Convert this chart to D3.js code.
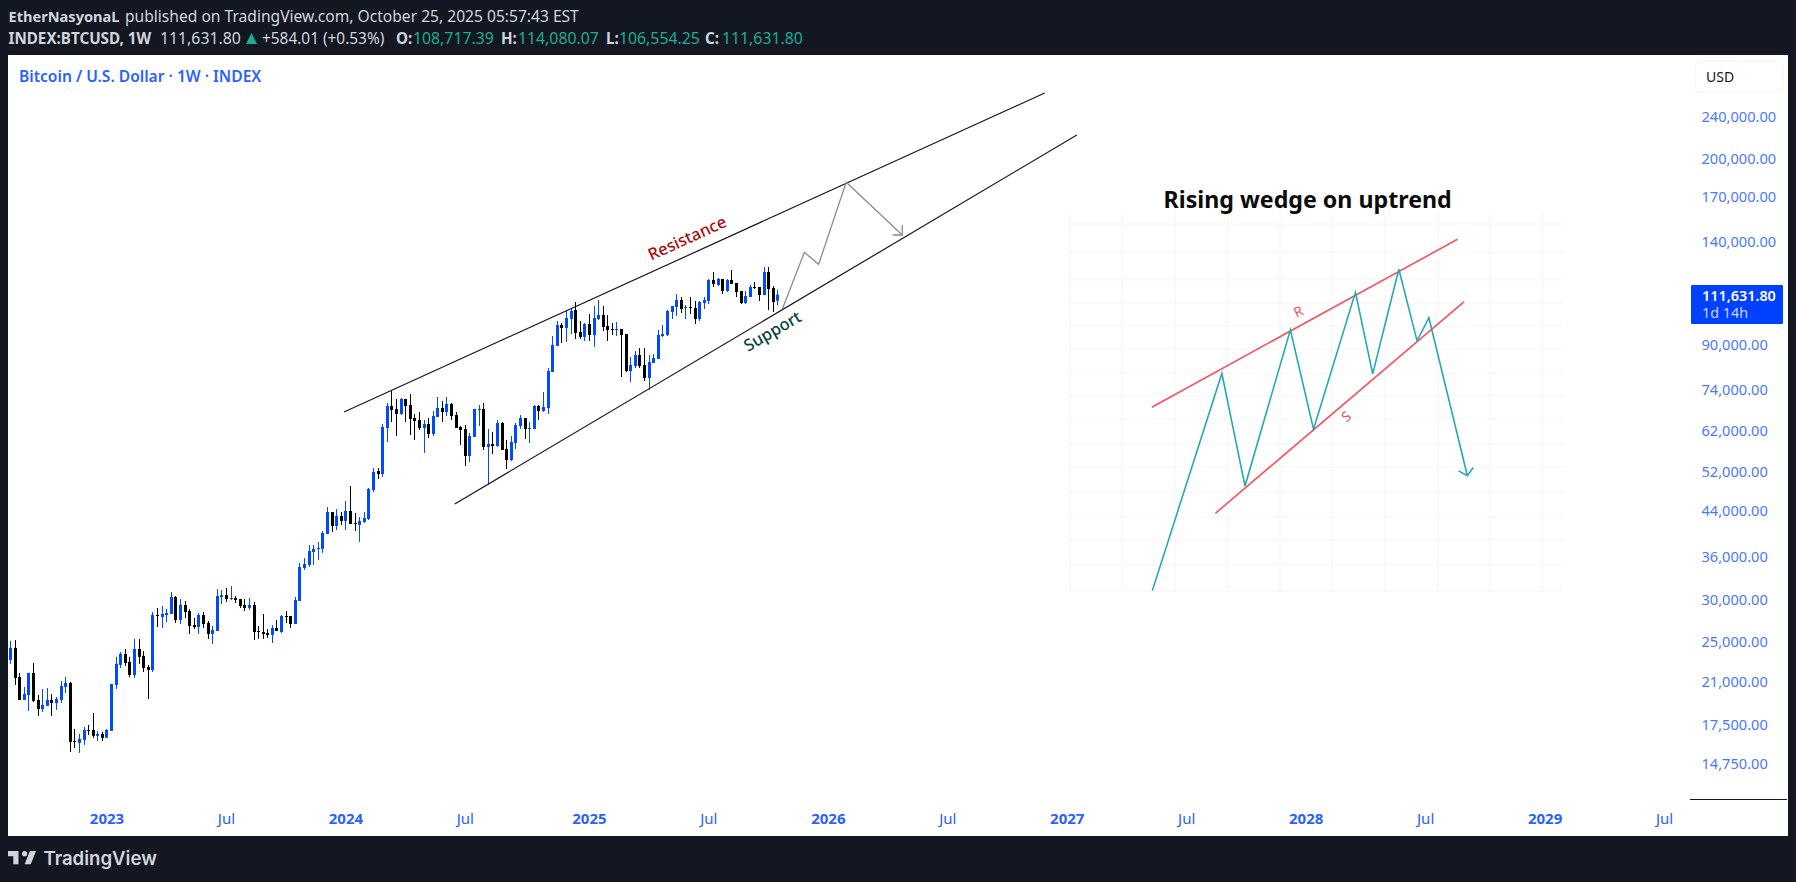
<!DOCTYPE html>
<html>
<head>
<meta charset="utf-8">
<script src="https://d3js.org/d3.v7.min.js"></script>
<style>
  body { margin: 0; background: #131722; }
  text { font-family: "Noto Sans", sans-serif; }
</style>
</head>
<body>
<div id="chart"></div>
<script>
// weekly candles, one entry per week, last one is the week of 2025-10-20
const opens = [23110,24340,21480,19450,19870,21850,19450,18710,18960,19450,
  19200,19450,20570,20930,16300,16160,16370,17090,17090,16660,
  16800,16520,17020,20750,22620,23720,22910,21660,24230,23520,
  22420,22130,28050,27810,28050,28170,30310,27450,29290,28540,
  26860,26630,28050,27100,25850,26180,30310,30570,30050,30180,
  30050,29290,28920,29290,26180,26070,25960,25740,26520,26070,
  27930,27930,26980,29800,34350,34800,36800,37300,37300,39770,
  43730,41170,42990,42070,43920,41710,41350,41890,42440,48080,
  52190,51510,62810,69060,68180,66720,71180,69360,65580,65010,
  62810,63900,61210,65860,68470,67300,69660,66430,63080,62540,
  55670,60420,67880,68180,57870,58620,58120,64180,57370,54720,
  58880,63350,65580,62540,62540,69060,67590,68470,79960,89450,
  97920,96660,100490,104460,95010,92990,98340,93790,100490,102230,
  97500,96250,95830,96250,94190,80300,82050,86040,82410,77920,
  83120,84570,93390,93790,103560,105820,109060,105360,105820,105360,
  100490,107660,108590,118880,116350,119390,113370,118880,117360,113370,
  107660,110480,115350,115350,111430,123040,114850,108717];
const highs = [25080,25190,21850,20570,21850,22810,19870,20390,20480,19960,
  19700,21110,21480,21020,17160,16800,17310,17460,18390,17020,
  16950,17160,20840,23420,23920,24230,23420,25300,25300,24020,
  22620,28420,28920,29170,28790,30970,30440,30050,29800,28790,
  27690,28290,28420,27330,26750,31380,31240,31510,31780,30440,
  30050,30050,30180,29670,26750,28170,26410,26860,27450,28050,
  28540,27930,30310,35100,35860,37940,37940,38430,40290,44680,
  43730,44300,43730,45850,48910,43550,42800,43730,48490,52870,
  52870,63900,69960,73670,71180,71480,71180,72720,66720,67300,
  65010,65580,67590,71790,70570,71790,69960,67300,63350,63620,
  61470,68180,69360,69960,62540,61730,65010,64450,59640,60680,
  64180,66430,65580,64450,69360,69360,73350,81350,93390,99620,
  98770,104010,104910,108120,99620,98770,102670,106280,109060,106280,
  102230,98770,99190,96250,94190,85300,87530,88680,88680,86040,
  86410,95830,97920,104460,106280,111910,110480,106740,110480,108590,
  108590,110480,119390,123040,119900,119390,119390,124110,117360,113370,
  113370,116350,117860,115350,125730,125730,115850,114080];
const lows = [22720,20750,19450,19450,18550,19280,18160,18470,18960,18160,
  18630,19200,20040,15550,15820,15480,16020,16730,16520,16300,
  16300,16520,17020,20390,22330,22520,21480,21380,22720,21940,
  19530,21940,26630,26520,27210,28170,27100,26980,27690,25850,
  26410,25850,26520,25300,24760,26180,29420,29670,29930,29540,
  28920,28540,28660,25190,25300,25300,25410,24870,26180,25960,
  27100,26520,26980,29800,34060,34500,34800,35560,36640,39770,
  40110,40460,41350,40460,41530,40290,38430,41710,42250,47670,
  50420,50850,59130,64450,60680,66430,64450,60940,59640,62270,
  56400,60160,60680,65860,64450,66150,65010,62810,58370,53330,
  54250,60420,63350,57130,49140,56150,57870,57130,52640,54480,
  57370,62540,59900,58880,62540,65010,67300,66720,79960,89450,
  90610,91000,94190,92190,92190,91400,91400,89070,100050,95420,
  91400,93790,93390,78260,79960,76590,81350,81350,76920,73990,
  83120,84570,92990,93390,100490,101800,103120,100490,102670,98340,
  99620,104910,107190,115350,115850,111910,112880,116850,110480,107190,
  107190,110480,114360,108590,111430,104460,103560,106554];
const closes = [24340,21380,19450,19960,21850,19370,18710,19040,19450,19200,
  19530,20660,20930,16230,16230,16450,17090,17020,16660,16800,
  16520,17090,20840,22720,23720,22810,21660,24230,23420,22330,
  22130,28050,27930,28170,28290,30310,27450,29290,28420,26750,
  26630,28050,26980,25850,26300,30440,30570,30050,30180,29930,
  29170,28920,29290,26070,26070,25850,25740,26520,26180,27930,
  27810,26980,29930,34500,34950,36960,37300,37450,39940,43730,
  41170,42990,42070,43920,41530,41530,42070,42620,48290,51960,
  51510,63080,69060,67880,66720,71180,69060,65300,64730,62810,
  63900,61210,66150,68470,67300,69660,66150,62810,62270,55670,
  60680,68180,68180,57870,58620,58120,64180,57130,54720,59130,
  63620,65580,62540,62810,69060,67590,68770,80300,89840,97920,
  96660,100920,104010,94600,92990,98340,93790,100920,102230,97080,
  95830,95830,96250,93790,80300,82410,86040,82050,77920,83480,
  84930,93790,94190,104010,106280,109060,104910,105820,105360,100490,
  108120,109060,118880,116850,119390,113370,118880,116850,112880,107660,
  110960,115350,114850,111430,123040,114360,108120,111632];

const priceTicks = [240000,200000,170000,140000,90000,74000,62000,52000,44000,36000,30000,25000,21000,17500,14750];
const timeTickDates = ['2023-01-02','2023-07-03','2024-01-01','2024-07-01','2025-01-06','2025-07-07','2026-01-05','2026-07-06','2027-01-04','2027-07-05','2028-01-03','2028-07-03','2029-01-01','2029-07-02'];
const timeTickLabels = ['2023','Jul','2024','Jul','2025','Jul','2026','Jul','2027','Jul','2028','Jul','2029','Jul'];

// drawings on the main chart as [week index, price]
const resistanceLine = [[72.7,67300],[225.2,266170]];
const supportLine = [[96.8,45260],[232.2,222080]];
const forecastPath = [[168.1,104910],[172.9,133950],[176.0,127200],[182.0,181130],[194.2,144300]];
const forecastHead = [[192.1,144300],[194.2,144300],[194.2,150480]];
const resistanceLabel = [147.5,141670];
const supportLabel = [166.1,94900];

// pasted wedge sketch, all in percent of the sketch box
const sketchGridX = [0,10.5,21.3,32,42.6,53.1,63.9,74.6,85.2,95.9];
const sketchGridY = [0,6.9,13.5,19.5,26.1,32.7,38.8,45.4,51.5,57.5,63.9,69.9,76,82.1,89.4,96.8];
const sketchPrice = [[16.7,0.1],[30.8,57.4],[35.5,27.7],[44.7,68.9],[49.4,42.7],[57.9,78.8],[61.4,57.3],[66.7,84.9],[70.4,66],[72.8,72.1],[80.6,30.4]];
const sketchArrow = [[78.8,31.7],[80.6,30.4],[81.8,32.6]];
const sketchResistance = [[16.6,48.5],[78.6,92.8]];
const sketchSupport = [[29.5,20.5],[79.9,76.3]];
const sketchR = [46.4,73.4];
const sketchS = [56.2,45.8];

const width = 1796, height = 882;
const bg = '#131722', blue = '#2962ff', candleBlue = '#0049ff';
const teal = '#22ab94', headerText = '#d1d4dc';

const firstWeek = new Date(Date.UTC(2022, 7, 8));
const weekDate = i => new Date(firstWeek.getTime() + i * 7 * 864e5);

const x = d3.scaleUtc().domain([weekDate(0), weekDate(167)]).range([10, 777.3]);
const y = d3.scaleLog().domain([240000, 14750]).range([117, 764.1]);
const line = d3.line().x(d => x(weekDate(d[0]))).y(d => y(d[1]));

const sx = d3.scaleLinear().domain([0, 100]).range([1070, 1563]);
const sy = d3.scaleLinear().domain([0, 100]).range([591, 212]);
const sketchLine = d3.line().x(d => sx(d[0])).y(d => sy(d[1]));

const svg = d3.select('#chart').append('svg')
  .attr('width', width).attr('height', height)
  .style('display', 'block');

svg.append('rect').attr('width', width).attr('height', height).attr('fill', bg);
svg.append('rect').attr('x', 8).attr('y', 55).attr('width', 1780).attr('height', 781).attr('fill', '#fff');

// header
const header1 = svg.append('text').attr('x', 8.5).attr('y', 22).attr('fill', headerText);
header1.append('tspan').attr('font-size', 14.6).attr('font-weight', 700).text('EtherNasyonaL');
header1.append('tspan').attr('x', 125).attr('font-size', 15.6).text('published on TradingView.com, October 25, 2025 05:57:43 EST');

const header2 = [
  ['INDEX:BTCUSD, 1W', 8.5, headerText, 700, 15.2],
  ['111,631.80', 160, headerText, 400, 15.8],
  ['+584.01 (+0.53%)', 262, headerText, 400, 15.4],
  ['O:', 396, headerText, 700, 15.2],
  ['108,717.39', 413, teal, 400, 15.8],
  ['H:', 501, headerText, 700, 15.2],
  ['114,080.07', 518, teal, 400, 15.8],
  ['L:', 606, headerText, 700, 15.2],
  ['106,554.25', 619, teal, 400, 15.8],
  ['C:', 705, headerText, 700, 15.2],
  ['111,631.80', 722, teal, 400, 15.8]
];
svg.append('g').selectAll('text').data(header2).join('text')
  .attr('x', d => d[1]).attr('y', 43.5)
  .attr('font-size', d => d[4])
  .attr('fill', d => d[2])
  .attr('font-weight', d => d[3])
  .text(d => d[0]);
svg.append('path').attr('d', 'M246 44 L251.5 33 L257 44 Z').attr('fill', teal);

svg.append('text').attr('x', 19).attr('y', 82)
  .attr('font-size', 15.6).attr('font-weight', 600).attr('fill', blue)
  .text('Bitcoin / U.S. Dollar · 1W · INDEX');

// candles
const candles = closes.map((c, i) => ({ i, o: opens[i], h: highs[i], l: lows[i], c }));
const cg = svg.append('g');
const candleX = d => Math.round(x(weekDate(d.i)));
cg.selectAll('rect.wick').data(candles).join('rect')
  .attr('class', 'wick')
  .attr('x', d => candleX(d))
  .attr('width', 1)
  .attr('y', d => y(d.h))
  .attr('height', d => y(d.l) - y(d.h))
  .attr('fill', d => d.c >= d.o ? candleBlue : '#000');
cg.selectAll('rect.body').data(candles).join('rect')
  .attr('class', 'body')
  .attr('x', d => candleX(d) - 1)
  .attr('width', 3)
  .attr('y', d => y(Math.max(d.o, d.c)))
  .attr('height', d => Math.max(1, Math.abs(y(d.o) - y(d.c))))
  .attr('fill', d => d.c >= d.o ? candleBlue : '#000');

// trend lines
[resistanceLine, supportLine].forEach(l => {
  svg.append('path').attr('d', line(l)).attr('fill', 'none').attr('stroke', '#131722').attr('stroke-width', 1.2);
});
[forecastPath, forecastHead].forEach(l => {
  svg.append('path').attr('d', line(l)).attr('fill', 'none').attr('stroke', '#8c8c8c').attr('stroke-width', 1.3);
});

const chartLabel = (pos, txt, angle, color, size) => svg.append('text')
  .attr('transform', `translate(${x(weekDate(pos[0]))},${y(pos[1])}) rotate(${angle})`)
  .attr('text-anchor', 'middle').attr('dominant-baseline', 'middle')
  .attr('font-size', size).attr('font-weight', 500).attr('fill', color).text(txt);
chartLabel(resistanceLabel, 'Resistance', -24.5, '#a80f0f', 16.5);
chartLabel(supportLabel, 'Support', -30, '#03443c', 16.5);

// wedge sketch
const sketch = svg.append('g');
sketch.selectAll('line.gx').data(sketchGridX).join('line')
  .attr('x1', d => sx(d)).attr('x2', d => sx(d)).attr('y1', sy(100)).attr('y2', sy(0))
  .attr('stroke', '#f4f5f6');
sketch.selectAll('line.gy').data(sketchGridY).join('line')
  .attr('x1', sx(0)).attr('x2', sx(100)).attr('y1', d => sy(d)).attr('y2', d => sy(d))
  .attr('stroke', '#f4f5f6');
[sketchResistance, sketchSupport].forEach(l => {
  sketch.append('path').attr('d', sketchLine(l)).attr('fill', 'none').attr('stroke', '#f7525f').attr('stroke-width', 1.6);
});
[sketchPrice, sketchArrow].forEach(l => {
  sketch.append('path').attr('d', sketchLine(l)).attr('fill', 'none').attr('stroke', '#26a8b0').attr('stroke-width', 1.6);
});
sketch.append('text').attr('x', sx(48.2)).attr('y', 208)
  .attr('text-anchor', 'middle').attr('font-size', 23.2).attr('font-weight', 700).attr('fill', '#0b0b0b')
  .text('Rising wedge on uptrend');
sketch.append('text').attr('transform', `translate(${sx(sketchR[0])},${sy(sketchR[1])}) rotate(-25)`)
  .attr('text-anchor', 'middle').attr('dominant-baseline', 'middle')
  .attr('font-size', 14).attr('fill', '#f7525f').text('R');
sketch.append('text').attr('transform', `translate(${sx(sketchS[0])},${sy(sketchS[1])}) rotate(-38)`)
  .attr('text-anchor', 'middle').attr('dominant-baseline', 'middle')
  .attr('font-size', 14).attr('fill', '#f7525f').text('S');

// price axis
const yAxis = d3.axisRight(y).tickValues(priceTicks).tickSize(0).tickPadding(0)
  .tickFormat(d => d3.format(',.2f')(d));
const yg = svg.append('g').attr('transform', 'translate(1701.5,0)').call(yAxis);
yg.select('.domain').remove();
yg.selectAll('text').attr('font-size', 14.6).attr('fill', '#4a78ff')
  .style('font-family', '"Noto Sans", sans-serif');

svg.append('rect').attr('x', 1695).attr('y', 61).attr('width', 88).attr('height', 31).attr('rx', 6)
  .attr('fill', '#fff').attr('stroke', '#f0f3fa');
svg.append('text').attr('x', 1706).attr('y', 81.5).attr('font-size', 14).attr('fill', '#131722').text('USD');

svg.append('rect').attr('x', 1691).attr('y', 285).attr('width', 92).attr('height', 39).attr('rx', 1).attr('fill', '#0040ff');
svg.append('text').attr('x', 1702).attr('y', 300.5).attr('font-size', 14.4).attr('font-weight', 600).attr('fill', '#fff').text('111,631.80');
svg.append('text').attr('x', 1702).attr('y', 318).attr('font-size', 14.4).attr('fill', '#c9d6ff').text('1d 14h');

svg.append('line').attr('x1', 1690).attr('x2', 1787).attr('y1', 799.5).attr('y2', 799.5).attr('stroke', '#131722');

// time axis
const xAxis = d3.axisBottom(x)
  .tickValues(timeTickDates.map(d => new Date(d + 'T00:00:00Z')))
  .tickSize(0).tickPadding(0)
  .tickFormat((d, i) => timeTickLabels[i]);
const xg = svg.append('g').attr('transform', 'translate(0,813)').call(xAxis);
xg.select('.domain').remove();
xg.selectAll('text').attr('font-size', 15).attr('fill', blue)
  .attr('font-weight', (d, i) => timeTickLabels[i] === 'Jul' ? 400 : 700)
  .style('font-family', '"Noto Sans", sans-serif');

// footer logo
svg.append('path')
  .attr('transform', 'translate(6.25,845.75) scale(0.875)')
  .attr('d', 'M14 6H2v6h6v9h6V6Zm14 15h-7l6-15h7l-6 15Zm-7-9a3 3 0 1 0 0-6 3 3 0 0 0 0 6Z')
  .attr('fill', headerText);
svg.append('text').attr('x', 43.5).attr('y', 865).attr('font-size', 18.6).attr('font-weight', 600)
  .style('font-family', 'Inter, sans-serif').attr('fill', headerText).text('TradingView');
</script>
</body>
</html>
